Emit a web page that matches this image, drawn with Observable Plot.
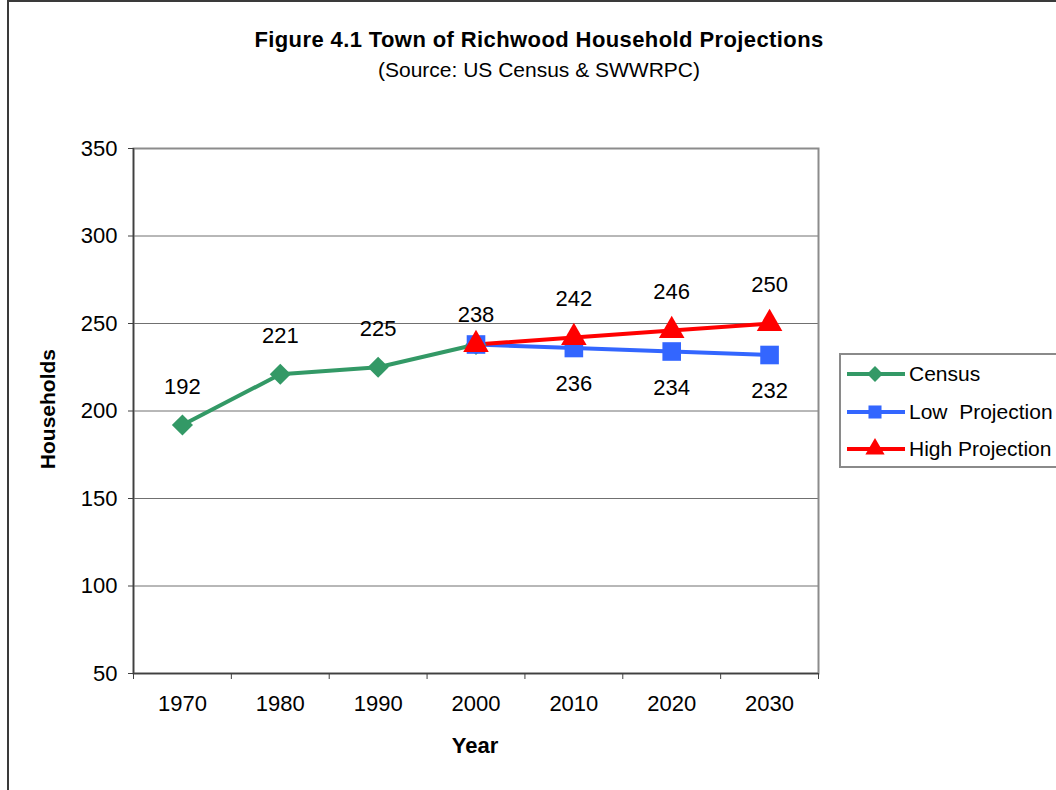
<!DOCTYPE html>
<html><head><meta charset="utf-8">
<script src="https://cdn.jsdelivr.net/npm/d3@7"></script>
<script src="https://cdn.jsdelivr.net/npm/@observablehq/plot@0.6"></script>
<style>
html,body{margin:0;padding:0;background:#fff;overflow:hidden;}
#wrap{position:relative;width:1056px;height:790px;overflow:hidden;font-family:"Liberation Sans",Arial,sans-serif;color:#000;}
#outer{position:absolute;left:7px;top:0px;width:1200px;height:900px;border:2px solid #3a3a3a;box-sizing:border-box;}
#chart{position:absolute;left:0;top:0;}
.title{position:absolute;left:0;width:1078px;text-align:center;white-space:nowrap;}
#t1{top:27px;font-size:22px;font-weight:bold;line-height:26px;letter-spacing:0.4px;}
#t2{top:58px;font-size:21px;line-height:24px;}
#ylab{position:absolute;left:35px;top:330px;width:26px;height:139px;}
#ylab span{position:absolute;bottom:0;left:0;writing-mode:vertical-rl;transform:rotate(180deg);font-size:21px;font-weight:bold;line-height:26px;white-space:nowrap;}
#xlab{position:absolute;left:375px;width:200px;top:733px;text-align:center;font-size:22px;font-weight:bold;line-height:26px;}
#legend{position:absolute;left:839px;top:353px;width:240px;height:115px;border:2px solid #8a8a8a;box-sizing:border-box;background:#fff;}
.lrow{position:absolute;left:6px;height:30px;display:flex;align-items:center;font-size:21px;white-space:pre;}
.lrow svg{margin-right:4px;}
</style></head><body><div id="wrap">
<div id="outer"></div>
<div id="chart"></div>
<div class="title" id="t1">Figure 4.1 Town of Richwood Household Projections</div>
<div class="title" id="t2">(Source: US Census &amp; SWWRPC)</div>
<div id="ylab"><span>Households</span></div>
<div id="xlab">Year</div>
<div id="legend"></div>
</div>
<script>
const years = [1970, 1980, 1990, 2000, 2010, 2020, 2030];
const censusYears = [1970, 1980, 1990, 2000];
const censusValues = [192, 221, 225, 238];
const projYears = [2000, 2010, 2020, 2030];
const lowValues = [238, 236, 234, 232];
const highValues = [238, 242, 246, 250];
const yTicks = [50, 100, 150, 200, 250, 300, 350];
const seriesNames = ["Census", "Low  Projection", "High Projection"];
const seriesColors = ["#339966", "#3366FF", "#FF0000"];
const seriesSymbols = ["diamond2", "square", "triangle"];

const census = censusYears.map((year, i) => ({year, value: censusValues[i]}));
const low = projYears.map((year, i) => ({year, value: lowValues[i]}));
const high = projYears.map((year, i) => ({year, value: highValues[i]}));

const half = (years[1] - years[0]) / 2;
const xDomain = [years[0] - half, years[years.length - 1] + half];
const boundaries = [...years.map(y => y - half), years[years.length - 1] + half];

const chart = Plot.plot({
  width: 1056,
  height: 790,
  marginLeft: 133,
  marginRight: 238,
  marginTop: 148,
  marginBottom: 117,
  style: {fontFamily: "'Liberation Sans', Arial, sans-serif", fontSize: "22px", color: "#000", background: "transparent"},
  x: {domain: xDomain},
  y: {domain: [yTicks[0], yTicks[yTicks.length - 1]]},
  marks: [
    Plot.ruleY(yTicks, {stroke: "#707070", strokeWidth: 1}),
    Plot.frame({stroke: "#8c8c8c", strokeWidth: 2}),
    Plot.ruleX([xDomain[0]], {stroke: "#404040", strokeWidth: 1.5}),
    Plot.ruleY([yTicks[0]], {stroke: "#404040", strokeWidth: 1.5}),
    Plot.axisY({ticks: yTicks, tickSize: 5, tickPadding: 11, label: null, stroke: "#404040", fill: "#000", fontSize: 22}),
    Plot.axisX({ticks: boundaries, tickSize: 6, tickFormat: () => "", label: null, stroke: "#404040"}),
    Plot.axisX({ticks: years, tickSize: 0, tickPadding: 22, tickFormat: d => String(d), label: null, fill: "#000", fontSize: 22}),
    Plot.line(census, {x: "year", y: "value", stroke: seriesColors[0], strokeWidth: 4}),
    Plot.line(low, {x: "year", y: "value", stroke: seriesColors[1], strokeWidth: 4}),
    Plot.line(high, {x: "year", y: "value", stroke: seriesColors[2], strokeWidth: 4}),
    Plot.dot(census, {x: "year", y: "value", symbol: seriesSymbols[0], fill: seriesColors[0], stroke: "none", r: 9.5}),
    Plot.dot(low, {x: "year", y: "value", symbol: seriesSymbols[1], fill: seriesColors[1], stroke: "none", r: 10.5}),
    Plot.dot(high, {x: "year", y: "value", symbol: seriesSymbols[2], fill: seriesColors[2], stroke: "none", r: 9.5}),
    Plot.text(census.filter(d => d.year !== 2000), {x: "year", y: "value", text: d => String(d.value), dy: -38, fill: "#000", fontSize: 22}),
    Plot.text(census.filter(d => d.year === 2000), {x: "year", y: "value", text: d => String(d.value), dy: -30, fill: "#000", fontSize: 22}),
    Plot.text(high.slice(1), {x: "year", y: "value", text: d => String(d.value), dy: -39, fill: "#000", fontSize: 22}),
    Plot.text(low.slice(1), {x: "year", y: "value", text: d => String(d.value), dy: 36, fill: "#000", fontSize: 22})
  ]
});
document.getElementById("chart").appendChild(chart);

// legend
const legend = document.getElementById("legend");
const rowTops = [4, 42, 79];
seriesNames.forEach((name, i) => {
  const row = document.createElement("div");
  row.className = "lrow";
  row.style.top = rowTops[i] + "px";
  const sym = d3.symbol(i === 0 ? d3.symbolDiamond2 : i === 1 ? d3.symbolSquare : d3.symbolTriangle, i === 0 ? 160 : i === 1 ? 170 : 160)();
  row.innerHTML = `<svg width="58" height="30"><line x1="0" x2="58" y1="15" y2="15" stroke="${seriesColors[i]}" stroke-width="4"/><path d="${sym}" transform="translate(28,15)" fill="${seriesColors[i]}"/></svg><span>${name}</span>`;
  legend.appendChild(row);
});
</script>
</body></html>
